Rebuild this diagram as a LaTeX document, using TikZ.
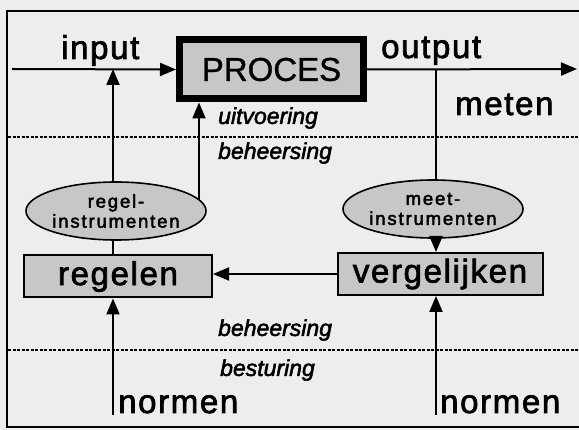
\documentclass[tikz,border=0pt]{standalone}
\usepackage{fontspec}
\setmainfont{Liberation Sans}
\newfontfamily\bigfont[LetterSpace=5,FakeBold=2.2]{Liberation Sans}
\newfontfamily\procfont[FakeBold=1]{Liberation Sans}
\newfontfamily\ellfont[LetterSpace=10,FakeBold=2.5]{Liberation Sans}
\newfontfamily\levelfont[FakeBold=2.2]{Liberation Sans}
\usetikzlibrary{shapes,arrows.meta,positioning,backgrounds}

\begin{document}
\begin{tikzpicture}[x=1pt, y=-1pt,
    box/.style={rectangle, draw=black, line width=2pt, fill=black!22, minimum width=188pt, minimum height=42pt, inner sep=0pt, font=\bigfont\fontsize{33}{35}\selectfont},
    instr/.style={ellipse, draw=black, line width=1.6pt, fill=black!22, minimum width=176pt, minimum height=58pt, inner sep=0pt, align=center, font=\ellfont\fontsize{18.5}{20}\selectfont},
    word/.style={inner sep=0pt, font=\bigfont\fontsize{33}{35}\selectfont},
    levelname/.style={inner sep=0pt, anchor=west, font=\levelfont\itshape\fontsize{23}{25}\selectfont},
    arrow/.style={-{Triangle[length=16pt,width=13pt]}, line width=2pt},
    conn/.style={line width=2pt},
    divider/.style={dash pattern=on 3pt off 1.5pt, line width=1.4pt}
]
\useasboundingbox (0,0) rectangle (579,430);

% Frame and level dividers
\draw[line width=2pt] (579,11) -- (7,11) -- (7,427) -- (579,427);
\draw[divider] (8,137) -- (579,137);
\draw[divider] (8,350) -- (579,350);

% Process
\node[box, line width=7pt, minimum width=184pt, minimum height=59pt, font=\procfont\fontsize{33}{35}\selectfont] (proces) at (271.5,69.5) {PROCES};

% Instruments
\node[instr] (regel) at (116,211) {regel-\\instrumenten};
\node[instr] (meet) at (433,209) {meet-\\instrumenten};

% Control boxes
\node[box] (regelen) at (118,276.5) {regelen};
\node[box, minimum width=205pt, minimum height=42pt] (verg) at (440,274) {vergelijken};

% Free ends and junctions
\coordinate (in) at (12,69);
\coordinate (out) at (577,69);
\coordinate (jin) at (113,69);
\coordinate (jout) at (436,69);
\coordinate (uit) at ([xshift=-72.5pt]proces.south);
\coordinate (nl) at (113,415);
\coordinate (nr) at (436,415);

% Labels
\node[word, anchor=base west] (input) at (61,59) {input};
\node[word, anchor=base west] (output) at (381,58) {output};
\node[word, anchor=base west] (meten) at (455,115) {meten};
\node[word, anchor=base west] (normenl) at (118,413) {normen};
\node[word, anchor=base west] (normenr) at (440,413) {normen};
\node[levelname] (uitvoering) at (218,118) {uitvoering};
\node[levelname] (beheersing) at (218,153) {beheersing};
\node[levelname] (beheersingb) at (218,330) {beheersing};
\node[levelname] (besturing) at (220,370) {besturing};

% Connections
\draw[arrow] (in) -- (proces.west);
\draw[arrow] (proces.east) -- (out);
\draw[arrow] (jin |- regel.north) -- (jin);
\begin{scope}[on background layer]
\fill[black!7] (0,0) rectangle (579,430);
\draw[arrow] (uit |- regel.center) -- (uit);
\end{scope}
\draw[conn] (jin |- regel.south) -- (jin |- regelen.north);
\draw[conn] (jout) -- (jout |- meet.north);
\draw[arrow] (jout |- meet.south) -- (jout |- verg.north);
\draw[arrow] (verg.west) -- (verg.west -| regelen.east);
\draw[arrow] (nl) -- (nl |- regelen.south);
\draw[arrow] (nr) -- (nr |- verg.south);

\end{tikzpicture}
\end{document}
